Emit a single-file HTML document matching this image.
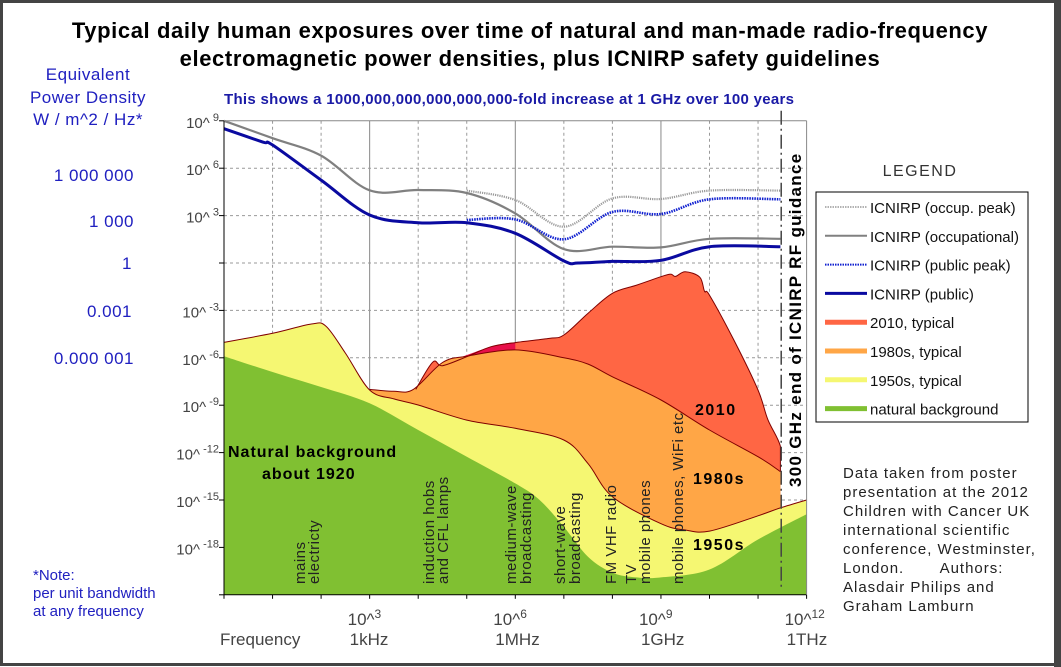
<!DOCTYPE html>
<html><head><meta charset="utf-8"><style>
html,body{margin:0;padding:0;background:#fff}
#wrap{position:relative;width:1061px;height:667px;overflow:hidden;background:#fff;font-family:"Liberation Sans",Arial,sans-serif}
</style></head><body>
<div id="wrap">
<svg id="chart" width="1061" height="667" viewBox="0 0 1061 667" xmlns="http://www.w3.org/2000/svg" font-family="Liberation Sans, Arial, sans-serif">
<rect x="1.5" y="1.5" width="1054" height="663" fill="#fff" stroke="#444" stroke-width="3"/>
<rect x="1054" y="0" width="7" height="667" fill="#444"/>
<text x="530" y="38" text-anchor="middle" font-size="22" font-weight="bold" letter-spacing="0.6">Typical daily human exposures over time of natural and man-made radio-frequency</text>
<text x="530" y="66" text-anchor="middle" font-size="22" font-weight="bold" letter-spacing="0.6">electromagnetic power densities, plus ICNIRP safety guidelines</text>
<text x="224" y="104" font-size="15" font-weight="bold" fill="#1a1aa6" letter-spacing="0.3">This shows a 1000,000,000,000,000,000-fold increase at 1 GHz over 100 years</text>
<g fill="#2020c0" font-size="17" text-anchor="middle" letter-spacing="0.5">
<text x="88" y="80">Equivalent</text><text x="88" y="103">Power Density</text><text x="88" y="125">W / m^2 / Hz*</text></g>
<g fill="#2020c0" font-size="17" text-anchor="end" letter-spacing="0.5">
<text x="134" y="181">1 000 000</text><text x="134" y="227">1 000</text><text x="132" y="269">1</text><text x="132" y="317">0.001</text><text x="134" y="364">0.000 001</text></g>
<g fill="#2020c0" font-size="15">
<text x="33" y="580">*Note:</text><text x="33" y="598">per unit bandwidth</text><text x="33" y="616">at any frequency</text></g>
<g id="grid"></g>
<g id="areas"></g>
<g id="lines"></g>
<g id="axes"></g>
<g font-size="16" font-weight="bold" letter-spacing="1">
<text x="228" y="457">Natural background</text><text x="262" y="479">about 1920</text></g>
<g font-size="16" font-weight="bold" letter-spacing="1.5">
<text x="695" y="415">2010</text><text x="693" y="484">1980s</text><text x="693" y="550">1950s</text></g>
<g font-size="15" fill="#222" letter-spacing="0.5">
<text transform="translate(305,584) rotate(-90)">mains</text>
<text transform="translate(319,584) rotate(-90)">electricty</text>
<text transform="translate(434,584) rotate(-90)">induction hobs</text>
<text transform="translate(448,584) rotate(-90)">and CFL lamps</text>
<text transform="translate(516,584) rotate(-90)">medium-wave</text>
<text transform="translate(531,584) rotate(-90)">broadcasting</text>
<text transform="translate(565,584) rotate(-90)">short-wave</text>
<text transform="translate(580,584) rotate(-90)">broadcasting</text>
<text transform="translate(616,584) rotate(-90)">FM VHF radio</text>
<text transform="translate(636,584) rotate(-90)">TV</text>
<text transform="translate(650,584) rotate(-90)">mobile phones</text>
<text transform="translate(683,584) rotate(-90)">mobile phones, WiFi etc</text></g>
<text transform="translate(801,487) rotate(-90)" font-size="17" font-weight="bold" letter-spacing="1.3">300 GHz end of ICNIRP RF guidance</text>
<g font-size="15" fill="#222" letter-spacing="1">
<text x="843" y="478">Data taken from poster</text><text x="843" y="497">presentation at the 2012</text>
<text x="843" y="516">Children with Cancer UK</text><text x="843" y="535">international scientific</text>
<text x="843" y="554">conference, Westminster,</text><text x="843" y="573">London.&#160;&#160;&#160;&#160;&#160;&#160; Authors:</text>
<text x="843" y="592">Alasdair Philips and</text><text x="843" y="611">Graham Lamburn</text></g>
<text x="920" y="176" text-anchor="middle" font-size="16" fill="#333" letter-spacing="1.5">LEGEND</text>
<g id="legend"></g>
</svg>
</div>
<script>
const NS="http://www.w3.org/2000/svg";
// ---- data (log10 frequency Hz, log10 power density) ----
const occPeakF=[5,6,7,8,9,10,11.46];
const occPeakP=[4.58,3.99,2.3,4.09,4.05,4.58,4.58];
const occF=[0,1,2,3,4,5,6,7,8,9,10,11.46];
const occP=[9.0,7.9,6.8,4.6,4.62,4.43,3.14,0.88,1.03,0.99,1.53,1.53];
const pubPeakF=[5,6,7,8,9,10,11.46];
const pubPeakP=[2.72,2.76,1.5,3.23,3.1,4.03,4.03];
const pubF=[0,0.8,1,2,3,4,5,6,7,7.3,8,9,10,11.46];
const pubP=[8.5,7.65,7.47,5.25,3.04,2.55,2.55,1.88,0.13,0.0,0.1,0.17,1.03,1.03];
const natF=[0,1,2,3,4,5,6,6.5,7,7.5,8,8.5,9,10,11,12];
const natP=[-5.9,-6.9,-7.85,-8.88,-10.57,-12.26,-13.95,-15.0,-16.7,-18.6,-19.6,-19.9,-19.9,-19.4,-17.5,-15.9];
const y1950F=[0,1,1.8,2.1,2.5,3,3.5,4,5,6,7,7.5,8,9,9.5,10,11,11.46,12];
const y1950P=[-5.02,-4.45,-3.86,-4.0,-5.7,-8.04,-8.6,-8.99,-9.94,-10.46,-11.2,-12.7,-14.8,-16.5,-16.9,-16.97,-16.0,-15.5,-15.0];
const y1980F=[3,3.5,3.9,4.5,5,6,7,7.5,8,9,10,11,11.46];
const y1980P=[-8.0,-8.12,-8.0,-6.3,-5.9,-5.5,-6.0,-6.4,-7.2,-8.67,-10.57,-12.26,-13.2];
const y2010F=[3.95,4.3,4.5,5,5.5,6,6.7,7,7.5,8,8.5,9,9.2,9.3,9.5,9.8,9.9,10,10.5,11,11.2,11.46,11.46];
const y2010P=[-8.0,-6.27,-6.5,-5.93,-5.3,-5.04,-4.77,-4.56,-3.18,-1.92,-1.4,-0.87,-0.7,-0.85,-0.55,-0.9,-1.8,-2.04,-4.87,-8.04,-9.9,-11.6,-13.2];
const magF=[4.8,5.5,6,6];
const magP=[-6.05,-5.3,-5.04,-5.5];
const yTickExp=[9,6,3,0,-3,-6,-9,-12,-15,-18,-21];
const xTickExp=[3,6,9,12];
const xTickUnits=["1kHz","1MHz","1GHz","1THz"];
// ---- axes ----
const X0=224,DX=48.55,Y0=263,DY=15.8,YMIN=-21,FMAX=12;
const sx=f=>X0+f*DX, sy=p=>Y0-p*DY;
function el(tag,attrs,parent){const e=document.createElementNS(NS,tag);for(const k in attrs)e.setAttribute(k,attrs[k]);parent.appendChild(e);return e;}
function smooth(F,P){
  const p=F.map((f,i)=>[sx(f),sy(P[i])]);
  let d="M"+p[0][0].toFixed(1)+","+p[0][1].toFixed(1);
  for(let i=0;i<p.length-1;i++){
    const p0=p[i-1]||p[i],p1=p[i],p2=p[i+1],p3=p[i+2]||p2;
    const t=1/6;
    let c1=[p1[0]+(p2[0]-p0[0])*t,p1[1]+(p2[1]-p0[1])*t];
    let c2=[p2[0]-(p3[0]-p1[0])*t,p2[1]-(p3[1]-p1[1])*t];
    // keep x monotone
    c1[0]=Math.min(Math.max(c1[0],p1[0]),p2[0]);c2[0]=Math.min(Math.max(c2[0],p1[0]),p2[0]);
    d+=" C"+c1[0].toFixed(1)+","+c1[1].toFixed(1)+" "+c2[0].toFixed(1)+","+c2[1].toFixed(1)+" "+p2[0].toFixed(1)+","+p2[1].toFixed(1);
  }
  return d;
}
const grid=document.getElementById('grid'),areas=document.getElementById('areas'),lines=document.getElementById('lines'),axes=document.getElementById('axes');
for(let d=1;d<FMAX;d++){
  const solid=d%3===0;
  const g=el('line',{x1:sx(d),x2:sx(d),y1:sy(9),y2:sy(YMIN),stroke:solid?'#888':'#999','stroke-width':1,'stroke-dasharray':solid?'none':'3,3'},grid);
  
  
}
yTickExp.forEach(e=>{ if(e===9||e===YMIN) return;
  const g=el('line',{x1:sx(0),x2:sx(FMAX),y1:sy(e),y2:sy(e),stroke:'#999','stroke-width':1,'stroke-dasharray':'3,3'},grid);
  
  
});
function area(F,P,fill,name){
  const d=smooth(F,P)+" L"+sx(F[F.length-1]).toFixed(1)+","+sy(YMIN)+" L"+sx(F[0]).toFixed(1)+","+sy(YMIN)+" Z";
  const a=el('path',{d:d,fill:fill},areas);
  
  
}
function line(F,P,stroke,w,dash,name,parent){
  const a=el('path',{d:smooth(F,P),fill:'none',stroke:stroke,'stroke-width':w,'stroke-linejoin':'round'},parent||lines);
  if(dash)a.setAttribute('stroke-dasharray',dash);
  
  
}
area(y2010F,y2010P,'#ff6644','area-2010');
const m=el('path',{d:smooth(magF,magP)+" Z",fill:'#e8104a'},areas);


area(y1980F,y1980P,'#ffa646','area-1980s');
area(y1950F,y1950P,'#f5f772','area-1950s');
area(natF,natP,'#80c032','area-natural');
line(y2010F,y2010P,'#800000',1,null,'line-2010',areas);
line(y1980F,y1980P,'#800000',1,null,'line-1980s',areas);
line(y1950F,y1950P,'#800000',1,null,'line-1950s',areas);
line(occF,occP,'#808080',2.2,null,'line-icnirp-occupational');
line(occPeakF,occPeakP,'#999',2.2,'1.2,1','line-icnirp-occup-peak');
line(pubF,pubP,'#0a0aa0',3,null,'line-icnirp-public');
line(pubPeakF,pubPeakP,'#1020d0',2.6,'1.5,1','line-icnirp-public-peak');
// axes
const ax=el('line',{x1:sx(0),x2:sx(0),y1:sy(9),y2:sy(YMIN),stroke:'#000','stroke-width':1},axes);

const bx=el('line',{x1:sx(0),x2:sx(FMAX),y1:sy(YMIN),y2:sy(YMIN),stroke:'#000','stroke-width':1},axes);

const tx=el('line',{x1:sx(0),x2:sx(FMAX),y1:sy(9),y2:sy(9),stroke:'#888','stroke-width':1},axes);

const rx=el('line',{x1:sx(FMAX),x2:sx(FMAX),y1:sy(9),y2:sy(YMIN),stroke:'#888','stroke-width':1},axes);

const gl=el('line',{x1:sx(Math.log10(3e11)),x2:sx(Math.log10(3e11)),y1:sy(9)-10,y2:sy(YMIN)-5,stroke:'#444','stroke-width':1.5,'stroke-dasharray':'14,4,2,4'},axes);

yTickExp.forEach(e=>{
  const t=el('line',{x1:sx(0)-5,x2:sx(0),y1:sy(e),y2:sy(e),stroke:'#000'},axes);
  
  if(e===0||e===YMIN) return;
  const l=el('text',{x:sx(0)-5,y:sy(e)+7,'text-anchor':'end','font-size':15,fill:'#444'},axes);
  
  l.appendChild(document.createTextNode('10^'));
  const s=el('tspan',{dy:-7,'font-size':11},l);s.textContent=' '+e;
});
for(let d=0;d<=FMAX;d++){
  const t=el('line',{x1:sx(d),x2:sx(d),y1:sy(YMIN),y2:sy(YMIN)+4,stroke:'#000'},axes);
  
}
xTickExp.forEach((e,i)=>{
  const l=el('text',{x:sx(e)-22,y:625,'font-size':17,fill:'#444'},axes);
  
  l.appendChild(document.createTextNode('10^'));
  const s=el('tspan',{dy:-7,'font-size':12},l);s.textContent=e;
  const u=el('text',{x:sx(e)-20,y:645,'font-size':17,fill:'#444'},axes);
  
  u.textContent=xTickUnits[i];
});
const fr=el('text',{x:220,y:645,'font-size':17,fill:'#444'},axes);

fr.textContent='Frequency';
// legend
const lg=document.getElementById('legend');
const box=el('rect',{x:816,y:192,width:212,height:230,fill:'#fff',stroke:'#000','stroke-width':1},lg);

const legNames=["ICNIRP (occup. peak)","ICNIRP (occupational)","ICNIRP (public peak)","ICNIRP (public)","2010, typical","1980s, typical","1950s, typical","natural background"];
const legStroke=['#999','#808080','#1020d0','#0a0aa0','#ff6644','#ffa646','#f5f772','#80c032'];
const legW=[1.5,2,2,3,5,5,5,5];
legNames.forEach((n,i)=>{
  const y=207+i*28.8;
  const g=el('g',{},lg);
  
  
  const s=el('line',{x1:825,x2:867,y1:y,y2:y,stroke:legStroke[i],'stroke-width':legW[i]},g);
  if(i===0||i===2)s.setAttribute('stroke-dasharray','1.5,1');
  const t=el('text',{x:870,y:y+6,'font-size':15,fill:'#111'},g);t.textContent=n;
});
</script>
</body></html>
